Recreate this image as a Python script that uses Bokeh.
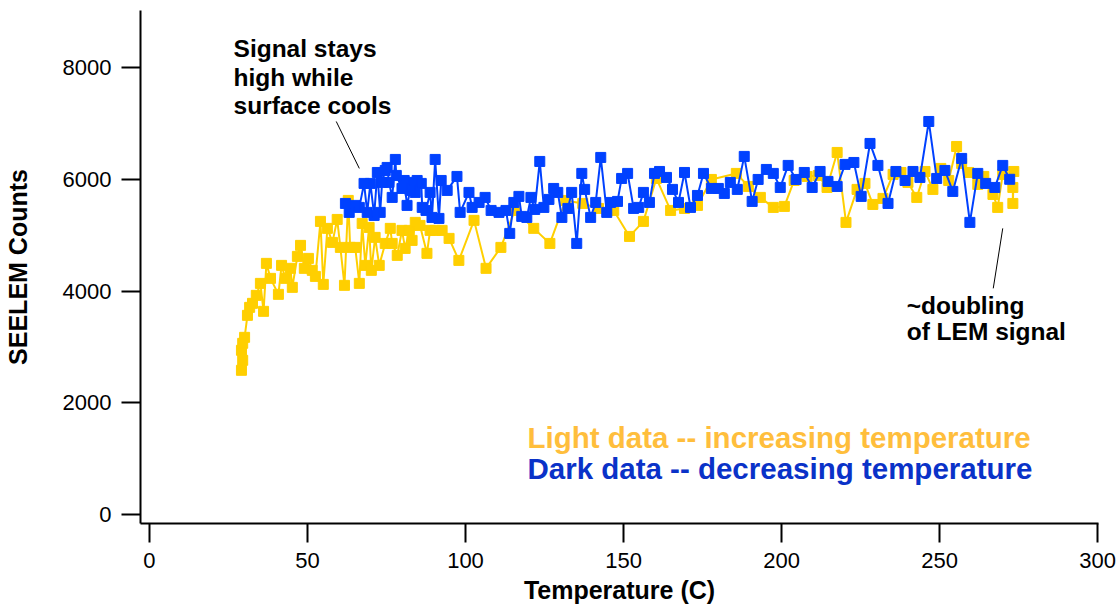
from bokeh.plotting import figure
from bokeh.models import Range1d, FixedTicker, Label
from bokeh.embed import file_html
from bokeh.resources import INLINE

# Light data -- increasing temperature
light_temp = [29.1, 29.5, 29.1, 29.5, 30.1, 31.0, 31.7, 32.6, 33.8, 35.1, 36.1, 37.0, 38.3, 40.8,
              41.8, 43.0, 44.6, 45.2, 46.8, 47.8, 49.0, 50.3, 51.5, 52.5, 54.1, 55.0, 56.3, 57.9,
              59.4, 60.4, 61.7, 62.9, 63.5, 65.1, 66.4, 67.3, 68.3, 69.5, 70.2, 71.4, 72.7, 74.6,
              76.2, 76.8, 78.4, 79.9, 80.9, 82.2, 83.1, 84.1, 85.6, 87.8, 88.8, 90.4, 92.6, 94.8,
              97.9, 102.7, 106.5, 111.2, 115.6, 121.6, 126.7, 131.7, 137.1, 142.1, 146.9, 151.9,
              156.3, 160.4, 164.9, 169.3, 173.4, 177.8, 185.7, 189.5, 193.3, 197.4, 200.9, 204.0,
              208.1, 211.6, 214.4, 217.6, 220.4, 223.9, 226.4, 228.9, 232.1, 235.3, 237.8, 240.0,
              242.8, 245.4, 247.9, 250.4, 252.9, 255.4, 257.0, 259.2, 262.1, 264.0, 266.9, 268.4,
              270.0, 273.2, 273.2, 273.5]
light_counts = [2583, 2762, 2941, 3066, 3173, 3566, 3709, 3781, 3924, 4138, 3638, 4496, 4228, 3942,
                4460, 4228, 4407, 4067, 4621, 4818, 4407, 4585, 4371, 4263, 5247, 4120, 5122, 4871,
                5282, 4782, 4103, 5622, 4782, 4782, 4138, 5211, 4460, 5139, 4371, 4961, 4460, 4853,
                5122, 4853, 4639, 5086, 4764, 5086, 4907, 5229, 5175, 4675, 5086, 5086, 5086, 4943,
                4549, 5265, 4407, 4782, 5443, 5122, 4853, 5622, 5568, 5479, 5443, 4978,
                5247, 6015, 5443, 5479, 5533, 5997, 6105, 5872, 5676, 5497, 5515, 5979,
                6051, 6069, 5854, 6480, 5229, 5819, 5926, 5550, 5658, 6087, 6122, 5944,
                5676, 6140, 5819, 6194, 5979, 6587, 6283, 6122, 5908, 6051, 5729, 5497,
                6087, 5854, 5568, 6140]

# Dark data -- decreasing temperature
dark_temp = [272.2, 270.0, 267.5, 264.6, 262.1, 259.6, 257.0, 254.2, 251.7, 249.1, 246.6, 243.8,
             241.6, 239.1, 236.2, 233.7, 230.5, 228.0, 225.2, 222.9, 220.1, 217.6, 214.7, 212.2,
             209.7, 207.2, 204.6, 202.1, 199.6, 197.4, 195.2, 192.6, 190.7, 188.2, 186.0, 183.8,
             181.9, 180.0, 177.8, 175.3, 173.4, 171.2, 169.3, 167.4, 165.5, 163.6, 161.4, 159.8,
             158.2, 156.3, 154.8, 153.2, 151.3, 149.4, 148.1, 145.9, 144.7, 142.8, 141.2, 139.6,
             137.7, 136.8, 135.2, 133.6, 132.4, 130.5, 129.2, 127.9, 126.4, 124.8, 123.5, 121.9,
             120.7, 119.4, 117.8, 116.9, 115.3, 114.0, 112.8, 110.6, 108.1, 106.2, 104.3, 102.1,
             101.1, 98.3, 97.3, 94.2, 92.3, 91.6, 90.4, 89.4, 88.8, 87.5, 86.3, 86.0, 84.7, 84.1,
             83.1, 82.5, 81.5, 80.6, 79.9, 78.1, 77.8, 76.8, 75.8, 75.2, 74.6, 73.6, 73.0, 72.1,
             71.1, 69.9, 68.9, 67.9, 66.4, 65.1, 63.2, 62.0]
dark_counts = [6000, 6248, 5854, 5926, 6105, 5229, 6373, 5783, 6158, 6015, 7034, 6033,
               6140, 5979, 6140, 5568, 6248, 6641, 5694, 6301, 6266, 5872, 5962, 6140,
               5854, 6122, 5997, 6248, 5854, 6105, 6176, 5997, 5604, 6409, 5819, 5944,
               5747, 5836, 5836, 6105, 5711, 5497, 6122, 5586, 5819, 6033, 6140, 6105,
               5586, 5765, 5497, 5479, 6105, 6015, 5604, 5586, 5408, 6391, 5586, 5318,
               5819, 6105, 4853, 5765, 5479, 5318, 5765, 5836, 5640, 5497, 6319, 5461,
               5676, 5318, 5336, 5694, 5586, 5032, 5443, 5408, 5443, 5676, 5586, 5497,
               5765, 5408, 6051, 5801, 5979, 5300, 6355, 5318, 5765, 5443, 5497, 5926, 5979, 5765,
               5944, 5801, 5533, 5979, 5836, 6069, 6355, 5676, 5944, 6212, 6158, 5944, 5408, 6122,
               5354, 5926, 5408, 5926, 5497, 5533, 5408, 5568]

x_ticks = [0, 50, 100, 150, 200, 250, 300]
y_ticks = [0, 2000, 4000, 6000, 8000]

# annotation pointer lines (data coordinates)
pointer1_x = [59.1, 66.4]
pointer1_y = [7034, 6194]
pointer2_x = [270.0, 267.0]
pointer2_y = [5122, 4049]

note1_lines = ["Signal stays", "high while", "surface cools"]
note1_x = 26.6
note1_y = [8339, 7821, 7320]
note2_lines = ["~doubling", "of LEM signal"]
note2_x = 239.6
note2_y = [3750, 3280]
legend_lines = ["Light data -- increasing temperature", "Dark data -- decreasing temperature"]
legend_x = 119.6
legend_y = [1385, 830]

LIGHT = "#FFCF00"
DARK = "#0041FF"
LIGHT_TXT = "#FFBE3C"
DARK_TXT = "#0A32C8"
FONT = "Liberation Sans"

p = figure(width=1117, height=614, output_backend="svg", toolbar_location=None,
           x_range=Range1d(-2.84, 300.3), y_range=Range1d(-157, 9019),
           min_border_left=138, min_border_right=19, min_border_top=10, min_border_bottom=91)
p.outline_line_color = None
p.grid.visible = False
p.background_fill_color = "white"
p.border_fill_color = "white"

for ax, ticks in ((p.xaxis, x_ticks), (p.yaxis, y_ticks)):
    ax.ticker = FixedTicker(ticks=ticks)
    ax.minor_tick_line_color = None
    ax.major_tick_in = 0
    ax.major_tick_out = 19
    ax.axis_line_width = 2
    ax.major_tick_line_width = 2
    ax.axis_line_color = "black"
    ax.major_tick_line_color = "black"
    ax.major_label_text_font = FONT
    ax.major_label_text_font_size = "22px"
    ax.major_label_text_color = "black"
    ax.major_label_standoff = 10
    ax.axis_label_text_font = FONT
    ax.axis_label_text_font_style = "bold"
    ax.axis_label_text_font_size = "25px"
    ax.axis_label_text_color = "black"

p.xaxis.axis_label = "Temperature (C)"
p.yaxis.axis_label = "SEELEM Counts"
p.xaxis.axis_label_standoff = 5
p.yaxis.axis_label_standoff = 28

p.line(light_temp, light_counts, line_color=LIGHT, line_width=2)
p.scatter(light_temp, light_counts, marker="square", size=10, fill_color=LIGHT, line_color=LIGHT)
p.line(dark_temp, dark_counts, line_color=DARK, line_width=2)
p.scatter(dark_temp, dark_counts, marker="square", size=10, fill_color=DARK, line_color=DARK)

p.line(pointer1_x, pointer1_y, line_color="black", line_width=1)
p.line(pointer2_x, pointer2_y, line_color="black", line_width=1)

for txt, yy in zip(note1_lines, note1_y):
    p.add_layout(Label(x=note1_x, y=yy, text=txt, text_font=FONT, text_font_style="bold",
                       text_font_size="24.5px", text_color="black", text_baseline="alphabetic"))
for txt, yy in zip(note2_lines, note2_y):
    p.add_layout(Label(x=note2_x, y=yy, text=txt, text_font=FONT, text_font_style="bold",
                       text_font_size="24.5px", text_color="black", text_baseline="alphabetic"))
for txt, yy, col in zip(legend_lines, legend_y, (LIGHT_TXT, DARK_TXT)):
    p.add_layout(Label(x=legend_x, y=yy, text=txt, text_font=FONT, text_font_style="bold",
                       text_font_size="29.5px", text_color=col, text_baseline="alphabetic"))

open("out.html", "w").write(file_html(p, INLINE))
